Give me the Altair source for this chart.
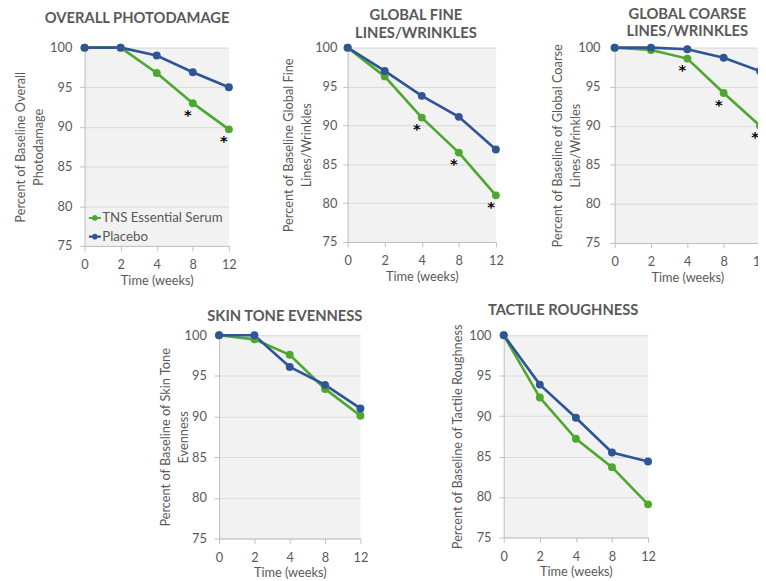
import altair as alt
import pandas as pd

weeks = ["0", "2", "4", "8", "12"]
series = ["TNS Essential Serum", "Placebo"]
titles = [["OVERALL PHOTODAMAGE"],
          ["GLOBAL FINE", "LINES/WRINKLES"],
          ["GLOBAL COARSE", "LINES/WRINKLES"],
          ["SKIN TONE EVENNESS"],
          ["TACTILE ROUGHNESS"]]
ytitles = [["Percent of Baseline Overall", "Photodamage"],
           ["Percent of Baseline Global Fine", "Lines/Wrinkles"],
           ["Percent of Baseline of Global Coarse", "Lines/Wrinkles"],
           ["Percent of Baseline of Skin Tone", "Evenness"],
           ["Percent of Baseline of Tactile Roughness"]]
tns = [[100, 100, 96.8, 93.0, 89.7],
       [100, 96.3, 91.0, 86.5, 81.0],
       [100, 99.7, 98.6, 94.2, 90.0],
       [100, 99.5, 97.6, 93.4, 90.1],
       [100, 92.3, 87.2, 83.7, 79.1]]
placebo = [[100, 100, 99.0, 96.9, 95.0],
           [100, 97.0, 93.8, 91.1, 86.9],
           [100, 100, 99.8, 98.7, 97.0],
           [100, 100, 96.1, 93.9, 91.0],
           [100, 93.9, 89.8, 85.5, 84.4]]
signif = [[0, 0, 0, 1, 1],
          [0, 0, 1, 1, 1],
          [0, 0, 1, 1, 1],
          [0, 0, 0, 0, 0],
          [0, 0, 0, 0, 0]]
y_ticks = [75, 80, 85, 90, 95, 100]

GREEN = "#4ea72e"
BLUE = "#2f5597"
TXT = "#595959"
AX = "#bfbfbf"
FONT = "Lato"

LEG_SYM = "M-1,0H1M-0.3,0A0.3,0.3 0 1,0 0.3,0A0.3,0.3 0 1,0 -0.3,0Z"


def panel(i, w, h, tdx, toff, tlh, title_x, label_pad, legend=False):
    rows = []
    for s, vals in zip(series, [tns[i], placebo[i]]):
        for wk, v, sg in zip(weeks, vals, signif[i]):
            rows.append({"week": wk, "value": v, "series": s,
                         "sig": (sg == 1 and s == series[0])})
    df = pd.DataFrame(rows)

    x = alt.X("week:N", sort=weeks, scale=alt.Scale(padding=0),
              axis=alt.Axis(title="Time (weeks)", labelAngle=0, grid=False,
                            domainColor=AX, tickColor=AX, tickSize=5,
                            labelPadding=8, titlePadding=3))
    y = alt.Y("value:Q", scale=alt.Scale(domain=[75, 100], nice=False, zero=False),
              axis=alt.Axis(values=y_ticks, title=ytitles[i], grid=True,
                            gridColor="#d9d9d9", domainColor=AX, tickColor=AX,
                            tickSize=5, labelPadding=label_pad, titleX=title_x,
                            titleLineHeight=18))
    if legend:
        leg = alt.Legend(title=None, orient="none", legendX=3, legendY=166,
                         symbolType=LEG_SYM, symbolSize=150, symbolStrokeWidth=2.2,
                         labelFont=FONT, labelFontSize=13.5, labelColor=TXT,
                         labelOffset=0, rowPadding=5, padding=0)
    else:
        leg = None
    color = alt.Color("series:N", sort=series,
                      scale=alt.Scale(domain=series, range=[GREEN, BLUE]),
                      legend=leg)
    base = alt.Chart(df)
    line = base.mark_line(strokeWidth=2.7).encode(x=x, y=y, color=color)
    pts = base.mark_point(filled=True, size=65, opacity=1).encode(
        x=x, y=y, color=alt.Color("series:N", sort=series,
                                  scale=alt.Scale(domain=series, range=[GREEN, BLUE]),
                                  legend=None))
    stars = base.transform_filter(alt.datum.sig).mark_text(
        text="*", fontSize=15, fontWeight="bold", color="#000000",
        dx=-5, dy=12, font="DejaVu Sans").encode(x=x, y=y)
    return alt.layer(line, pts, stars).properties(
        width=w, height=h,
        title=alt.TitleParams(titles[i], dx=tdx, offset=toff, anchor="middle",
                              font=FONT, fontSize=15, fontWeight="bold",
                              color=TXT, lineHeight=tlh),
        view=alt.ViewBackground(fill="#f2f2f2", stroke=None))


def spacer(w, h=1):
    return alt.Chart(pd.DataFrame({"a": [0]})).mark_text().encode(
        text=alt.value("")).properties(width=w, height=h,
                                        view=alt.ViewBackground(stroke=None))


p1 = panel(0, 147, 202, -20, 16, 21, -58, 8, legend=True)
p2 = panel(1, 151, 198, -6, 1, 18, -53, 6)
p3 = panel(2, 148, 199, 0, 3, 17, -51, 10)
p4 = panel(3, 144, 207, -5, 6, 21, -47, 8)
p5 = panel(4, 147, 206, -13, 6, 21, -40, 8)

top = alt.hconcat(p1, spacer(121), p2, spacer(121), p3, spacing=0, bounds="flush")
bottom = alt.hconcat(spacer(137), p4, spacer(146), p5, spacing=0, bounds="flush")

chart = alt.vconcat(spacer(1, 43), top, spacer(1, 293), bottom,
                    spacing=0, bounds="flush").resolve_scale(
    color="independent").configure(
    font=FONT, padding={"left": 6, "top": -8, "right": -10, "bottom": 0}
).configure_axis(
    labelFont=FONT, labelFontSize=13, labelColor=TXT,
    titleFont=FONT, titleFontSize=13, titleFontWeight="normal", titleColor=TXT
).configure_view(stroke=None)

chart.save("out.html", embed_options={"renderer": "svg", "actions": False})
